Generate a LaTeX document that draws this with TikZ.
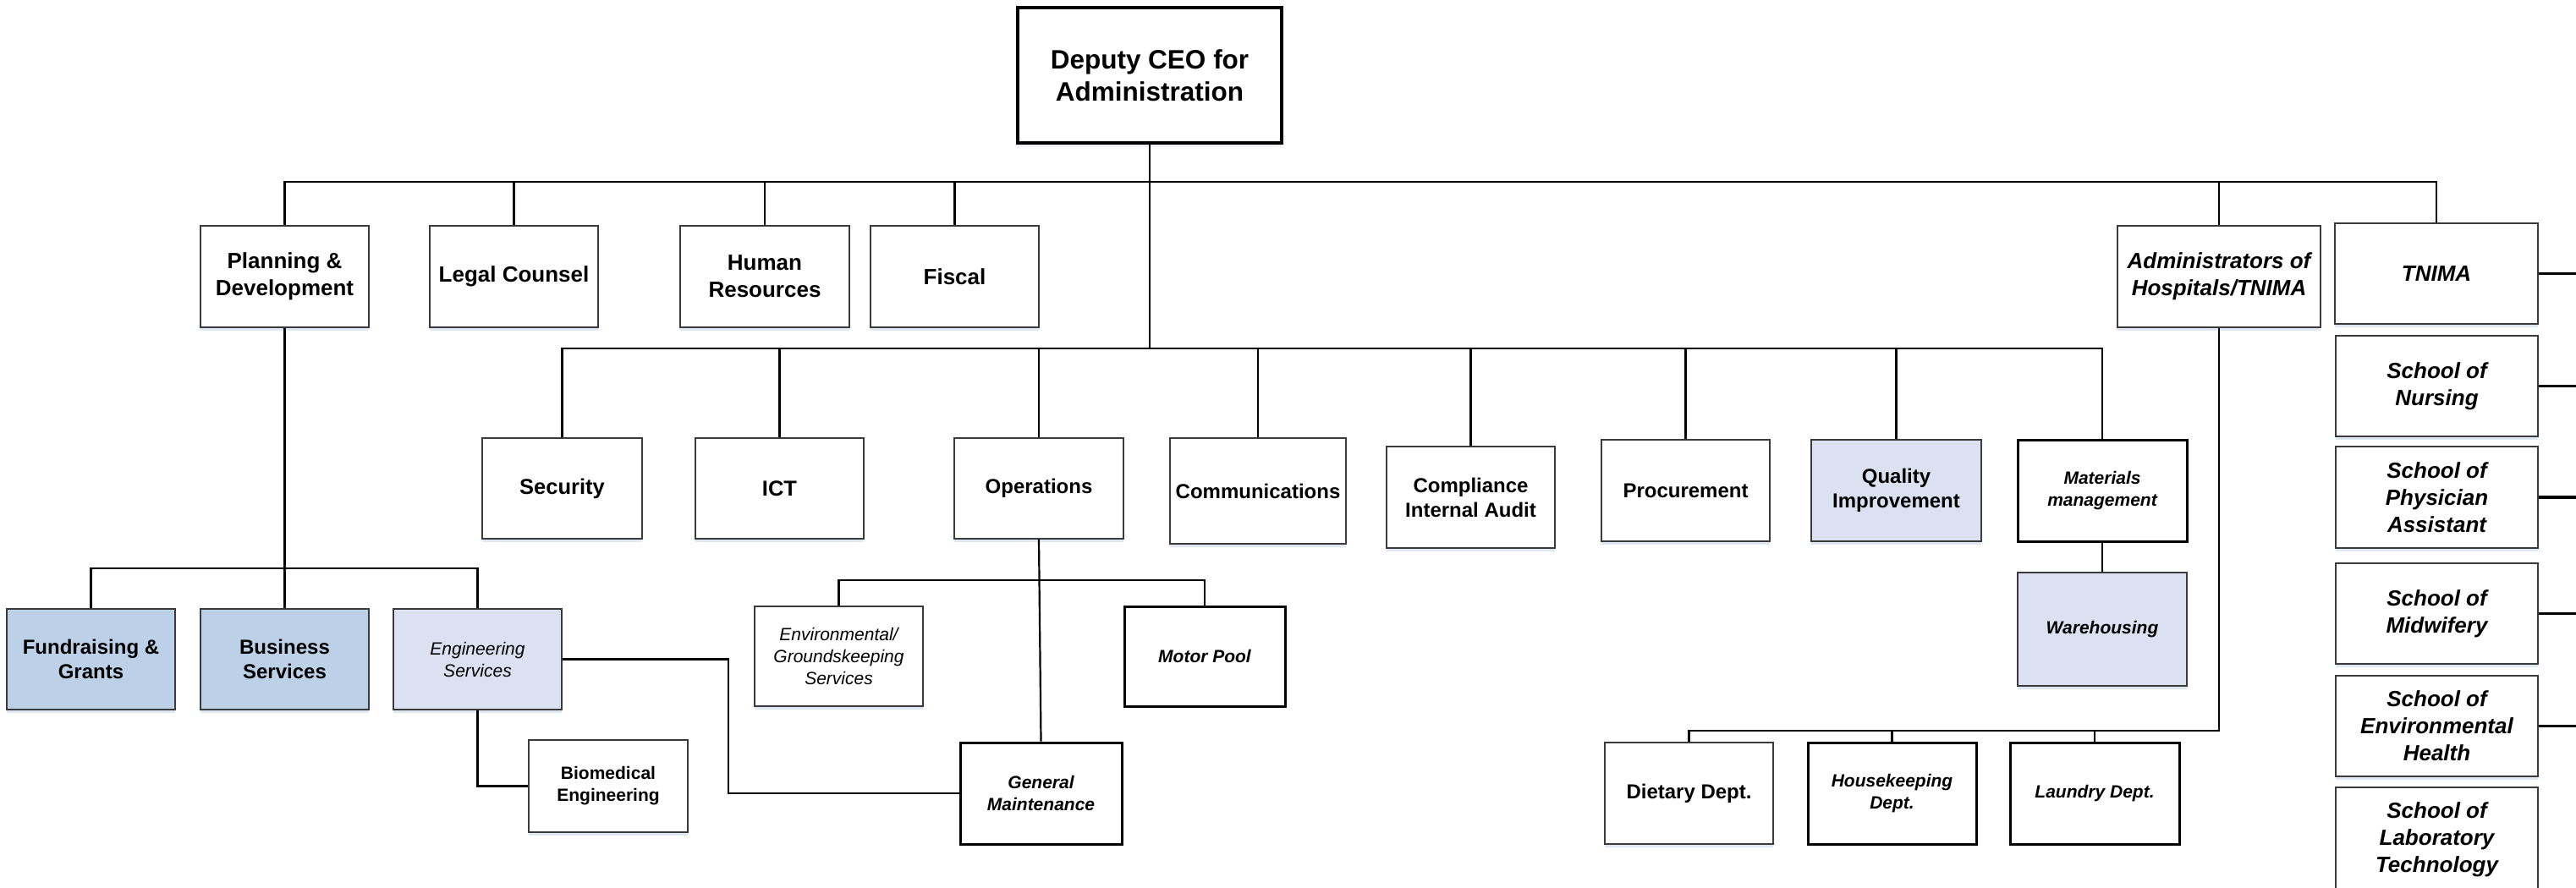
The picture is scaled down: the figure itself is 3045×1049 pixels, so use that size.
\documentclass[tikz,border=0pt]{standalone}
\usepackage{fontspec}
\setmainfont{Liberation Sans}
\usetikzlibrary{shadows}
\definecolor{blueA}{HTML}{BCD0E8}
\definecolor{lavA}{HTML}{DCE1F2}
\definecolor{shadowc}{HTML}{DFE7F2}
\definecolor{edgec}{HTML}{3A3A3A}
\begin{document}
\begin{tikzpicture}[x=1pt,y=-1pt,
  thinbox/.style={draw=edgec, line width=1.3pt, fill=white, inner sep=0pt, align=center,
    drop shadow={shadow xshift=0pt, shadow yshift=-4pt, fill=shadowc, opacity=1}},
  thickbox/.style={draw=black, line width=3pt, fill=white, inner sep=0pt, align=center},
  conn/.style={draw=black, line width=2.2pt},
  bus/.style={draw=black, line width=2.8pt},
  fT/.style={font=\fontsize{26}{32}\selectfont\bfseries},
  fTi/.style={font=\fontsize{26}{32}\selectfont\bfseries\itshape},
  fM/.style={font=\fontsize{24}{29}\selectfont\bfseries},
  fS/.style={font=\fontsize{21}{26}\selectfont\bfseries},
  fSi/.style={font=\fontsize{21}{26}\selectfont\bfseries\itshape},
  fSr/.style={font=\fontsize{21}{26}\selectfont\itshape},
]
\useasboundingbox (0,0) rectangle (3045,1049);
\fill[white] (0,0) rectangle (3045,1049);

% top
\node[thickbox, line width=4.5pt, minimum width=312pt, minimum height=160pt,
  font=\fontsize{31.5}{38}\selectfont\bfseries,
  drop shadow={shadow xshift=0pt, shadow yshift=-5pt, fill=shadowc}] (ceo) at (1359,89) {Deputy CEO for\\Administration};

% level 1
\node[thinbox, fT, minimum width=199pt, minimum height=120pt] (plan) at (336.5,327) {Planning \&\\Development};
\node[thinbox, fT, minimum width=199pt, minimum height=120pt] (legal) at (607.5,327) {Legal Counsel};
\node[thinbox, fT, minimum width=200pt, minimum height=120pt] (hr) at (904,327) {Human\\Resources};
\node[thinbox, fT, minimum width=199pt, minimum height=120pt] (fiscal) at (1128.5,327) {Fiscal};
\node[thinbox, fTi, minimum width=240pt, minimum height=120pt] (admin) at (2623,327) {Administrators of\\Hospitals/TNIMA};
\node[thinbox, fTi, minimum width=240pt, minimum height=119pt] (tnima) at (2880,323.5) {TNIMA};

% schools
\node[thinbox, fTi, minimum width=239pt, minimum height=119pt] (nurs) at (2880.5,456.5) {School of\\Nursing};
\node[thinbox, fTi, minimum width=239pt, minimum height=120pt] (phys) at (2880.5,588) {School of\\Physician\\Assistant};
\node[thinbox, fTi, minimum width=239pt, minimum height=119pt] (midw) at (2880.5,725.5) {School of\\Midwifery};
\node[thinbox, fTi, minimum width=239pt, minimum height=119pt] (envh) at (2880.5,858.5) {School of\\Environmental\\Health};
\node[thinbox, fTi, minimum width=239pt, minimum height=124pt] (lab) at (2880.5,993) {School of\\Laboratory\\Technology};

% level 2
\node[thinbox, fT, font=\fontsize{25.5}{31}\selectfont\bfseries, minimum width=189pt, minimum height=119pt] (sec) at (664.5,577.5) {Security};
\node[thinbox, fT, font=\fontsize{25.5}{31}\selectfont\bfseries, minimum width=199pt, minimum height=119pt] (ict) at (921.5,577.5) {ICT};
\node[thinbox, fM, minimum width=200pt, minimum height=119pt] (ops) at (1228,577.5) {Operations};
\node[thinbox, fM, minimum width=208pt, minimum height=125pt] (comm) at (1487,580.5) {Communications};
\node[thinbox, fM, minimum width=199pt, minimum height=120pt] (compl) at (1738.5,588) {Compliance\\Internal Audit};
\node[thinbox, fM, minimum width=199pt, minimum height=120pt] (proc) at (1992.5,580) {Procurement};
\node[thinbox, fM, fill=lavA, minimum width=201pt, minimum height=120pt] (qual) at (2241.5,580) {Quality\\Improvement};
\node[thickbox, fSi, minimum width=200pt, minimum height=120pt] (mat) at (2485,580) {Materials\\management};
\node[thinbox, fSi, fill=lavA, minimum width=200pt, minimum height=134pt] (ware) at (2485,744) {Warehousing};

% planning children
\node[thinbox, fM, fill=blueA, minimum width=199pt, minimum height=119pt] (fund) at (107.5,779.5) {Fundraising \&\\Grants};
\node[thinbox, fM, fill=blueA, minimum width=199pt, minimum height=119pt] (busi) at (336.5,779.5) {Business\\Services};
\node[thinbox, fSr, fill=lavA, minimum width=199pt, minimum height=119pt] (eng) at (564.5,779.5) {Engineering\\Services};
\node[thinbox, fS, minimum width=188pt, minimum height=109pt] (bio) at (719,929.5) {Biomedical\\Engineering};

% operations children
\node[thinbox, fSr, minimum width=199pt, minimum height=118pt] (env) at (991.5,776) {Environmental/\\Groundskeeping\\Services};
\node[thickbox, fSi, minimum width=190pt, minimum height=118pt] (motor) at (1424,776) {Motor Pool};
\node[thickbox, fSi, minimum width=191pt, minimum height=120pt] (gm) at (1230.5,938) {General\\Maintenance};

% admin children
\node[thinbox, fM, minimum width=199pt, minimum height=120pt] (diet) at (1996.5,938) {Dietary Dept.};
\node[thickbox, fSi, minimum width=199pt, minimum height=120pt] (house) at (2236.5,938) {Housekeeping\\Dept.};
\node[thickbox, fSi, minimum width=200pt, minimum height=120pt] (laund) at (2476,938) {Laundry Dept.};

% bus coordinates
\coordinate (tb) at (1359,215);
\coordinate (sb) at (1359,412);
\coordinate (pb) at (336.5,672);
\coordinate (ob) at (1228,686);
\coordinate (ab) at (2623,864);
\coordinate (engc) at (861,779.5);
\coordinate (re1) at (3045,323.5);
\coordinate (re2) at (3045,456.5);
\coordinate (re3) at (3045,588);
\coordinate (re4) at (3045,725.5);
\coordinate (re5) at (3045,858.5);

% top bus
\draw[bus] (plan.north) |- (tb) -| (tnima.north);
\draw[conn] (ceo.south) -- (sb);
\foreach \n in {legal,hr,fiscal,admin} \draw[conn] (\n.north) -- (\n.north |- tb);

% second bus
\draw[bus] (sec.north) |- (sb) -| (mat.north);
\foreach \n in {ict,ops,comm,compl,proc,qual} \draw[conn] (\n.north) -- (\n.north |- sb);
\draw[conn] (mat.south) -- (ware.north);

% planning children
\draw[conn] (plan.south) -- (pb);
\draw[conn] (fund.north) |- (pb) -| (eng.north);
\draw[conn] (busi.north) -- (pb);
\draw[conn] (eng.south) |- (bio.west);
\draw[conn] (eng.east) -- (engc) |- (gm.west);

% operations children
\draw[conn] (ops.south) -- (gm.north);
\draw[conn] (env.north) |- (ob) -| (motor.north);

% admin children
\draw[conn] (admin.south) -- (ab) -| (diet.north);
\draw[conn] (house.north) -- (house.north |- ab);
\draw[conn] (laund.north) -- (laund.north |- ab);

% right stubs
\draw[bus, line width=3.2pt] (tnima.east) -- (re1);
\draw[bus, line width=3.2pt] (nurs.east) -- (re2);
\draw[bus, line width=3.2pt] (phys.east) -- (re3);
\draw[bus, line width=3.2pt] (midw.east) -- (re4);
\draw[bus, line width=3.2pt] (envh.east) -- (re5);
\end{tikzpicture}
\end{document}
